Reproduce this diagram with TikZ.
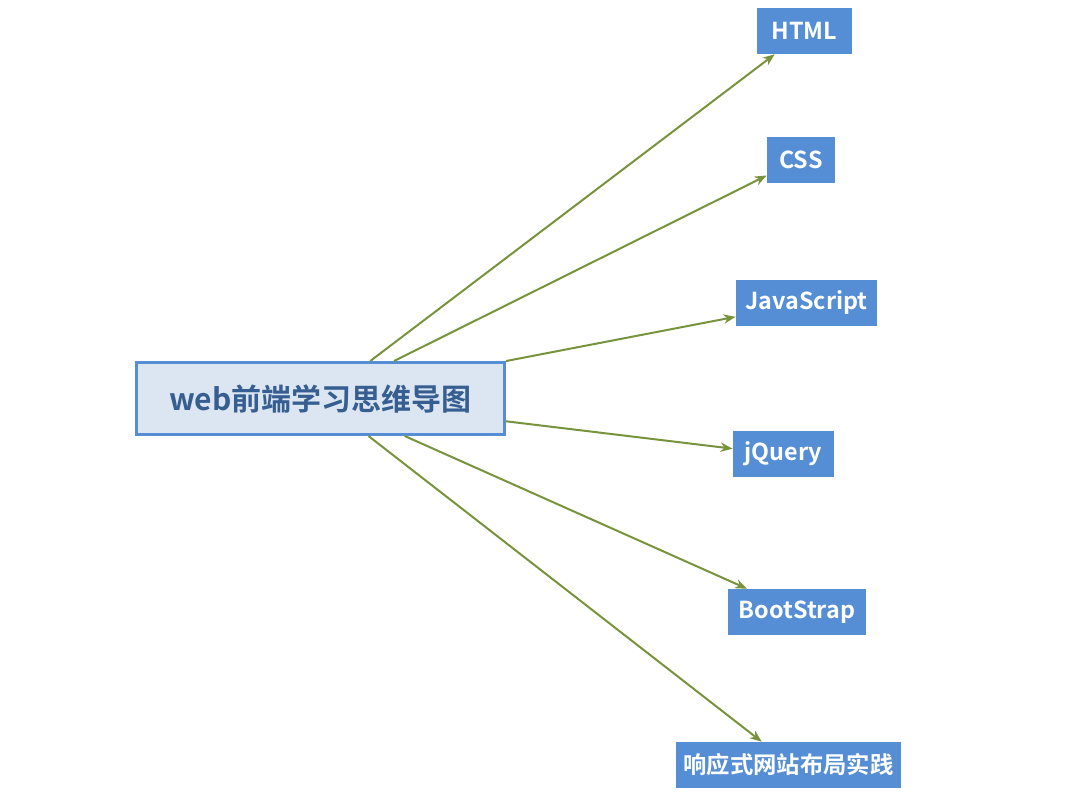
\documentclass[tikz,border=0pt]{standalone}
\usepackage{fontspec}
\newfontfamily\cjk{Noto Sans CJK SC}[BoldFont={Noto Sans CJK SC Bold}]
\usetikzlibrary{arrows.meta}
\definecolor{topicblue}{RGB}{85,142,213}
\definecolor{rootfill}{RGB}{220,230,242}
\definecolor{roottext}{RGB}{54,94,145}
\definecolor{linkgreen}{RGB}{119,147,60}

\begin{document}
\begin{tikzpicture}[x=0.75pt, y=-0.75pt,
	root/.style={draw=topicblue, line width=2.2pt, fill=rootfill, text=roottext,
		minimum width=276pt, minimum height=54pt, inner sep=0pt,
		font=\cjk\bfseries\fontsize{22.5}{25}\selectfont},
	topic/.style={fill=topicblue, text=white, minimum height=34.5pt, inner sep=0pt,
		font=\cjk\bfseries\fontsize{17.5}{20}\selectfont},
	link/.style={draw=linkgreen, line width=1.5pt, -{Stealth[length=9pt, width=7pt]}}]
	\useasboundingbox (0,0) rectangle (1066,808);
	\node[root] (WEB) at (320.5,398.5) {web前端学习思维导图};
	\node[topic, minimum width=71pt]  (HTML) at (804.5,31)  {HTML};
	\node[topic, minimum width=51pt]  (CSS)  at (801,159.5) {CSS};
	\node[topic, minimum width=106pt] (JS)   at (806.5,303) {JavaScript};
	\node[topic, minimum width=76pt]  (JQ)   at (783.5,454) {jQuery};
	\node[topic, minimum width=103pt] (BS)   at (797,612)   {BootStrap};
	\node[topic, minimum width=169pt] (RWD)  at (788.5,765) {响应式网站布局实践};
	% branches
	\draw[link] (WEB.37)  -- (HTML.218);
	\draw[link] (WEB.27)  -- (CSS.205);
	\draw[link] (WEB.north east) -- (JS.191);
	\draw[link] (WEB.-7)  -- (JQ.174);
	\draw[link] (WEB.-24) -- (BS.155);
	\draw[link] (WEB.-38) -- (RWD.139);
\end{tikzpicture}
\end{document}
